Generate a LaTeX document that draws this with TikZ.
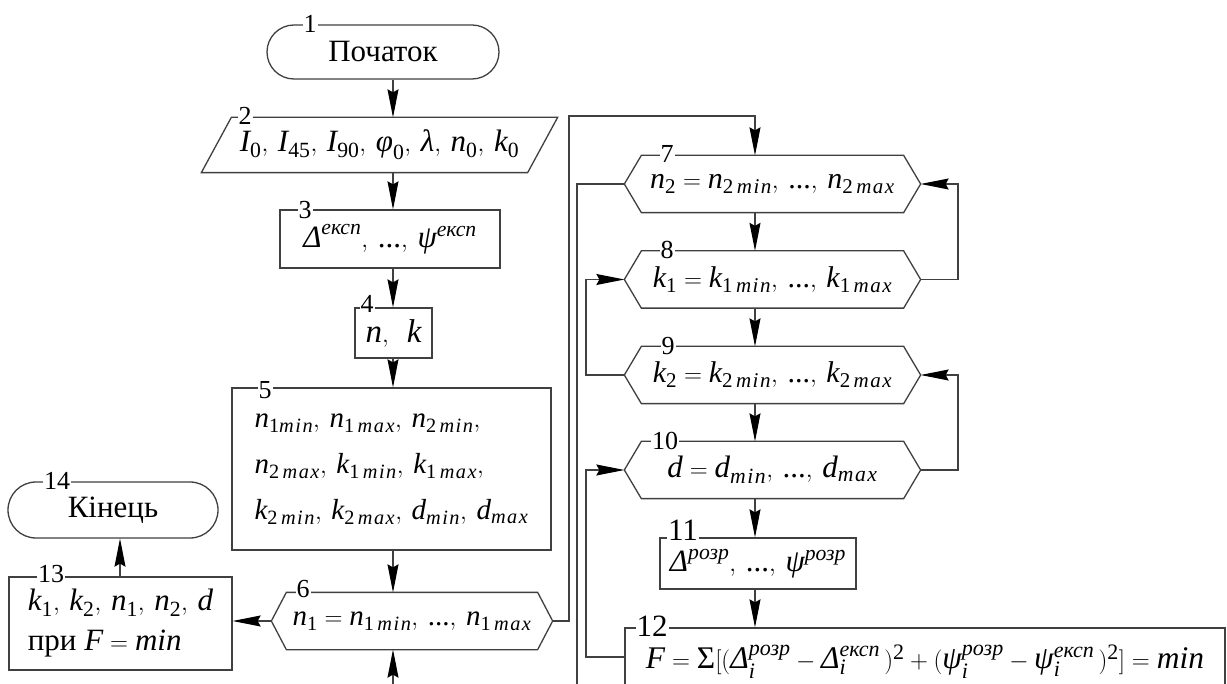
\documentclass[tikz,border=0pt]{standalone}
\usepackage{amsmath}
\usepackage{fontspec}
\setmainfont{Liberation Serif}
\usetikzlibrary{shapes.misc,arrows.meta,calc}
\newcommand{\vi}[1]{\text{\itshape #1}}
\newcommand{\vr}[1]{\text{\upshape #1}}
\newcommand{\fs}[1]{\fontsize{#1}{#1}\selectfont}
\newcommand{\smin}{\vi{m\kern1.5pt i\kern1.5pt n}}
\newcommand{\smax}{\vi{m\kern1.5pt a\kern1.5pt x}}
\newcommand{\cma}{,\:}
\colorlet{lc}{black!75}
\newcommand{\hexa}[2]{%
  \draw[lc] (#1.west) -- ([xshift=#2pt]#1.north west) -- ([xshift=-#2pt]#1.north east)
  -- (#1.east) -- ([xshift=-#2pt]#1.south east) -- ([xshift=#2pt]#1.south west) -- cycle;}
\begin{document}
\begin{tikzpicture}[x=1pt,y=-1pt,line width=1.3pt,
  box/.style={draw=lc,rectangle,inner sep=0pt,font=\fs{30}},
  term/.style={draw=lc,rounded rectangle,inner sep=0pt,font=\fs{31}},
  hexn/.style={rectangle,inner sep=0pt,minimum width=295,minimum height=56,font=\fs{30}},
  num/.style={fill=white,inner sep=1pt,font=\fs{26}},
  arr/.style={draw=lc,-{Stealth[length=28pt,width=11pt,inset=3pt,black]}},
  conn/.style={draw=lc}]
\useasboundingbox (0,0) rectangle (1227,684);
\clip (0,0) rectangle (1227,684);
\fill[white] (0,0) rectangle (1227,684);

% nodes
\node[term,minimum width=232,minimum height=54] (b1) at (383,52) {Початок};
\node[rectangle,inner sep=0pt,minimum width=355,minimum height=54,font=\fs{31}] (b2) at (379.5,145)
  {$\vi{I}_{\vr{0}}\cma \vi{I}_{\vr{45}}\cma \vi{I}_{\vr{90}}\cma \vi{φ}_{\vr{0}}\cma \vi{λ}\cma \vi{n}_{\vr{0}}\cma \vi{k}_{\vr{0}}$};
\draw[lc] ([xshift=30pt]b2.north west) -- (b2.north east) -- ([xshift=-30pt]b2.south east) -- (b2.south west) -- cycle;
\node[box,minimum width=220,minimum height=58,font=\fs{31}] (b3) at (390,239)
  {$\vi{Δ}^{\vi{експ}}\cma \vr{...}\cma \vi{ψ}^{\vi{експ}}$};
\node[box,minimum width=77,minimum height=50,font=\fs{33}] (b4) at (393.5,333) {$\vi{n}\cma\ \vi{k}$};
\node[box,minimum width=319,minimum height=162,align=left,font=\fontsize{29}{46}\selectfont] (b5) at (391.5,469)
  {$\vi{n}_{\vr{1}\smin}\cma \vi{n}_{\vr{1}\,\smax}\cma \vi{n}_{\vr{2}\,\smin}\cma$\\
   $\vi{n}_{\vr{2}\,\smax}\cma \vi{k}_{\vr{1}\,\smin}\cma \vi{k}_{\vr{1}\,\smax}\cma$\\
   $\vi{k}_{\vr{2}\,\smin}\cma \vi{k}_{\vr{2}\,\smax}\cma \vi{d}_{\smin}\cma \vi{d}_{\smax}$};
\node[hexn,minimum width=280,font=\fs{29}] (b6) at (412,621)
  {$\vi{n}_{\vr{1}} = \vi{n}_{\vr{1}\,\smin}\cma \vr{...}\cma \vi{n}_{\vr{1}\,\smax}$};
\hexa{b6}{15}
\node[hexn] (b7) at (772.5,184)
  {$\vi{n}_{\vr{2}} = \vi{n}_{\vr{2}\,\smin}\cma \vr{...}\cma \vi{n}_{\vr{2}\,\smax}$};
\hexa{b7}{17}
\node[hexn] (b8) at (772.5,279.5)
  {$\vi{k}_{\vr{1}} = \vi{k}_{\vr{1}\,\smin}\cma \vr{...}\cma \vi{k}_{\vr{1}\,\smax}$};
\hexa{b8}{17}
\node[hexn] (b9) at (772.5,375)
  {$\vi{k}_{\vr{2}} = \vi{k}_{\vr{2}\,\smin}\cma \vr{...}\cma \vi{k}_{\vr{2}\,\smax}$};
\hexa{b9}{17}
\node[hexn,font=\fs{31}] (b10) at (772.5,470)
  {$\vi{d} = \vi{d}_{\smin}\cma \vr{...}\cma \vi{d}_{\smax}$};
\hexa{b10}{17}
\node[box,minimum width=196,minimum height=51,font=\fs{31}] (b11) at (758,563.5)
  {$\vi{Δ}^{\vi{розр}}\cma \vr{...}\cma \vi{ψ}^{\vi{розр}}$};
\node[box,minimum width=600,minimum height=68,font=\fs{31.5}] (b12) at (925,662)
  {$\vi{F} = \vr{Σ}[(\vi{Δ}_{\vi{i}}^{\vi{розр}} - \vi{Δ}_{\vi{i}}^{\vi{експ}}\,)^{\vr{2}} + (\vi{ψ}_{\vi{i}}^{\vi{розр}} - \vi{ψ}_{\vi{i}}^{\vi{експ}}\,)^{\vr{2}}] = \vi{min}$};
\node[box,minimum width=223,minimum height=93,align=left,font=\fontsize{31}{40}\selectfont] (b13) at (120.5,623.5)
  {$\vi{k}_{\vr{1}}\cma \vi{k}_{\vr{2}}\cma \vi{n}_{\vr{1}}\cma \vi{n}_{\vr{2}}\cma \vi{d}$\\ при $\vi{F} = \vi{min}$};
\node[term,minimum width=210,minimum height=56] (b14) at (113,510) {Кінець};

% number labels
\node[num] (n1) at (310,24) {1};
\node[num] (n2) at (245,116) {2};
\node[num] (n3) at (305,210) {3};
\node[num] (n4) at (367,304) {4};
\node[num] (n5) at (265,390) {5};
\node[num] (n6) at (303,589) {6};
\node[num] (n7) at (667,154) {7};
\node[num] (n8) at (667,250) {8};
\node[num] (n9) at (668,346) {9};
\node[num] (n10) at (665,441) {10};
\node[num,font=\fs{31}] (n11) at (683,530) {11};
\node[num,font=\fs{31}] (n12) at (652,626) {12};
\node[num] (n13) at (51,574) {13};
\node[num] (n14) at (57,481) {14};

% helper coordinates
\coordinate (mx) at (393,0);
\coordinate (rx) at (755,0);
\coordinate (lx) at (120,0);
\coordinate (L1) at (569,116);
\coordinate (L2) at (577,694);
\coordinate (L3) at (586,0);
\coordinate (R1) at (958,0);
\coordinate (B6) at (393,694);
\coordinate (b12in) at ([yshift=5pt]b12.west);
\coordinate (b6w) at (b6.west);

% connectors
\draw[arr] (mx |- b1.south) -- (mx |- b2.north);
\draw[arr] (mx |- b2.south) -- (mx |- b3.north);
\draw[arr] (mx |- b3.south) -- (mx |- b4.north);
\draw[arr] (mx |- b4.south) -- (mx |- b5.north);
\draw[arr] (mx |- b5.south) -- (mx |- b6.north);
\draw[arr] (b6.west) -- (b6.west -| b13.east);
\draw[arr] (lx |- b13.north) -- (lx |- b14.south);
\draw[arr] (b6.east) -- (L1 |- b6.east) -- (L1) -- (rx |- L1) -- (rx |- b7.north);
\draw[arr] (rx |- b7.south) -- (rx |- b8.north);
\draw[arr] (rx |- b8.south) -- (rx |- b9.north);
\draw[arr] (rx |- b9.south) -- (rx |- b10.north);
\draw[arr] (rx |- b10.south) -- (rx |- b11.north);
\draw[arr] (rx |- b11.south) -- (rx |- b12.north);
\draw[arr] (b8.east) -- (R1 |- b8.east) -- (R1 |- b7.east) -- (b7.east);
\draw[arr] (b10.east) -- (R1 |- b10.east) -- (R1 |- b9.east) -- (b9.east);
\draw[arr] (b9.west) -- (L3 |- b9.west) -- (L3 |- b8.west) -- (b8.west);
\draw[arr] (b12in) -- (L3 |- b12in) -- (L3 |- b10.west) -- (b10.west);
\draw[conn] (b7.west) -- (L2 |- b7.west) -- (L2);
\draw[arr] (B6) -- (B6 |- b6.south);
\end{tikzpicture}
\end{document}
